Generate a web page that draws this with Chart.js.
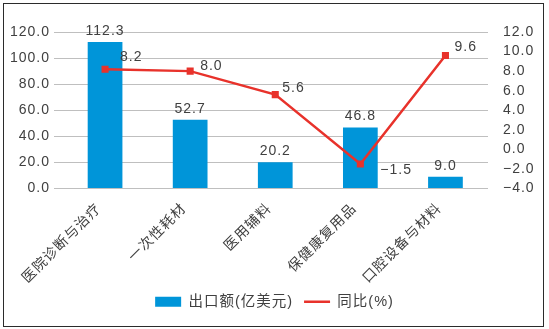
<!DOCTYPE html>
<html>
<head>
<meta charset="utf-8">
<title>出口额</title>
<script src="https://cdn.jsdelivr.net/npm/chart.js@4.4.1/dist/chart.umd.min.js"></script>
<style>
  body { margin: 0; background: #fff; }
  .wrap { position: relative; width: 549px; height: 329px; }
  .frame {
    position: absolute; left: 3px; top: 3px; width: 541px; height: 324px;
    box-sizing: border-box; border: 1px solid #2b2b2b;
  }
  #chart { position: absolute; left: 0; top: 0; }
</style>
</head>
<body>
<div class="wrap">
  <div class="frame"></div>
  <canvas id="chart" width="549" height="329"></canvas>
</div>
<script>
  const categories = ['医院诊断与治疗', '一次性耗材', '医用辅料', '保健康复用品', '口腔设备与材料'];
  const exportValues = [112.3, 52.7, 20.2, 46.8, 9.0];
  const yoyValues = [8.2, 8.0, 5.6, -1.5, 9.6];
  const leftTicks = [0, 20, 40, 60, 80, 100, 120];
  const rightTicks = [-4, -2, 0, 2, 4, 6, 8, 10, 12];

  // where the yoy labels sit next to their points (dx, dy)
  const yoyLabelShift = [[15, -12], [10, -5], [7, -6], [20, 6], [9, -8]];

  const FONT = "'Liberation Sans', 'Noto Sans CJK SC', sans-serif";
  const TEXT = '#404040';
  const BLUE = '#0095D9';
  const RED = '#E8322B';

  function fmt(v) {
    const s = v.toFixed(1);
    return v < 0 ? '\u2212' + s.slice(1) : s;
  }

  // x runs on a numeric axis so the category slots can sit a bit right of the grid start
  const barPoints = exportValues.map((v, i) => ({ x: i, y: v }));
  const yoyPoints = yoyValues.map((v, i) => ({ x: i, y: v }));

  // all text on this chart is set slightly loose
  const looseText = {
    id: 'looseText',
    beforeLayout(chart) { chart.ctx.letterSpacing = '1px'; },
    beforeDraw(chart) { chart.ctx.letterSpacing = '1px'; }
  };

  const valueLabels = {
    id: 'valueLabels',
    afterDatasetsDraw(chart) {
      const ctx = chart.ctx;
      ctx.save();
      ctx.font = '14px ' + FONT;
      ctx.fillStyle = TEXT;
      chart.getDatasetMeta(0).data.forEach((bar, i) => {
        ctx.textAlign = 'center';
        ctx.textBaseline = 'bottom';
        ctx.fillText(fmt(exportValues[i]), bar.x, bar.y - 4);
      });
      chart.getDatasetMeta(1).data.forEach((pt, i) => {
        ctx.textAlign = 'left';
        ctx.textBaseline = 'middle';
        const [dx, dy] = yoyLabelShift[i];
        ctx.fillText(fmt(yoyValues[i]), pt.x + dx, pt.y + dy);
      });
      ctx.restore();
    }
  };

  new Chart(document.getElementById('chart'), {
    data: {
      datasets: [
        {
          type: 'bar',
          label: '出口额(亿美元)',
          data: barPoints,
          backgroundColor: BLUE,
          borderWidth: 0,
          yAxisID: 'y',
          order: 1,
          barPercentage: 0.8,
          categoryPercentage: 0.51
        },
        {
          type: 'line',
          label: '同比(%)',
          data: yoyPoints,
          borderColor: RED,
          backgroundColor: RED,
          borderWidth: 2.5,
          pointStyle: 'rect',
          pointRadius: 5,
          pointBorderWidth: 0,
          pointBackgroundColor: RED,
          tension: 0,
          yAxisID: 'y1',
          order: 0
        }
      ]
    },
    options: {
      responsive: false,
      animation: false,
      layout: { padding: { top: 32, left: 0, right: 0, bottom: 10 } },
      plugins: {
        tooltip: { enabled: false },
        legend: {
          position: 'bottom',
          labels: {
            usePointStyle: true,
            pointStyleWidth: 26,
            boxHeight: 10,
            padding: 11,
            color: TEXT,
            font: { family: FONT, size: 14.5 },
            sort: (a, b) => a.datasetIndex - b.datasetIndex,
            generateLabels(chart) {
              const items = Chart.defaults.plugins.legend.labels.generateLabels(chart);
              items.forEach(it => {
                if (it.datasetIndex === 1) {
                  it.pointStyle = 'line';
                  it.strokeStyle = RED;
                  it.lineWidth = 2.5;
                } else {
                  it.pointStyle = 'rect';
                  it.fillStyle = BLUE;
                  it.lineWidth = 0;
                }
              });
              return items;
            }
          }
        }
      },
      scales: {
        x: {
          type: 'linear',
          offset: false,
          min: -0.6,
          max: 4.5,
          afterBuildTicks(scale) { scale.ticks = categories.map((c, i) => ({ value: i })); },
          grid: { display: false, drawTicks: false, offset: false },
          border: { display: false },
          ticks: {
            color: TEXT,
            font: { family: FONT, size: 14 },
            minRotation: 45,
            maxRotation: 45,
            autoSkip: false,
            padding: 12,
            labelOffset: -6,
            callback: v => categories[v]
          },
          afterFit(scale) { scale.height = 95; }
        },
        y: {
          position: 'left',
          min: 0,
          max: 120,
          afterBuildTicks(scale) { scale.ticks = leftTicks.map(v => ({ value: v })); },
          grid: { color: '#BFBFBF', lineWidth: 1, drawTicks: false },
          border: { display: false },
          ticks: {
            color: TEXT,
            font: { family: FONT, size: 14 },
            padding: 4,
            autoSkip: false,
            callback: v => fmt(v)
          },
          afterFit(scale) { scale.width = 54; }
        },
        y1: {
          position: 'right',
          min: -4,
          max: 12,
          afterBuildTicks(scale) { scale.ticks = rightTicks.map(v => ({ value: v })); },
          grid: { display: false, drawTicks: false },
          border: { display: false },
          ticks: {
            color: TEXT,
            font: { family: FONT, size: 14 },
            padding: 15,
            autoSkip: false,
            callback: v => fmt(v)
          },
          afterFit(scale) { scale.width = 61; }
        }
      }
    },
    plugins: [looseText, valueLabels]
  });
</script>
</body>
</html>
